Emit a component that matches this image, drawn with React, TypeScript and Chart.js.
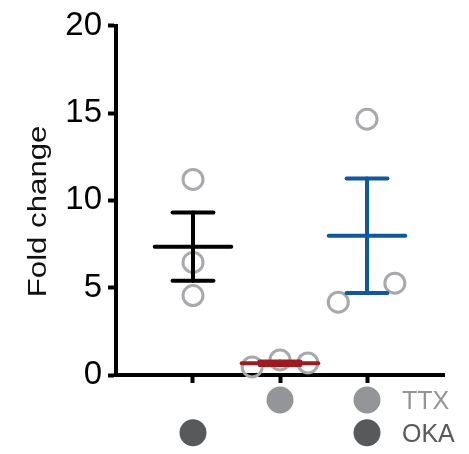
import React, { useEffect, useRef } from 'react';
import { Chart, registerables } from 'chart.js';

Chart.register(...registerables);

// ---- data ----
const groupCenters = [1, 2, 3];
const group1X = [1, 1, 1];
const group1Y = [11.2, 6.45, 4.55];
const group2X = [1.68, 2.0, 2.32];
const group2Y = [0.46, 0.86, 0.69];
const group3X = [2.67, 3.0, 3.32];
const group3Y = [4.17, 14.65, 5.26];
const groupMeans = [7.35, 0.67, 7.97];
const groupSems = [1.95, 0.1, 3.28];
const yTickValues = [0, 5, 10, 15, 20];
const rowLabels = ['TTX', 'OKA'];
const rowLevels = [-1.43, -3.31];
const ttxPositions = [2, 3];
const okaPositions = [1, 3];
const yTitle = 'Fold change';

// ---- styles ----
const groupColors = ['#000000', '#9e1b20', '#115799'];
const pointColor = '#a7a9ac';
const rowColors = ['#939598', '#58595b'];
const FONT = '"Liberation Sans", Arial, Helvetica, sans-serif';
const MEAN_HALF = 0.44;
const CAP_HALF = 0.235;

const toPts = (xs: number[], ys: number[]) => xs.map((x, i) => ({ x, y: ys[i] }));

function lineDs(data: { x: number; y: number }[], color: string) {
  return {
    type: 'scatter' as const,
    data,
    showLine: true,
    borderColor: color,
    backgroundColor: color,
    borderWidth: 4,
    borderCapStyle: 'round' as const,
    pointRadius: 0,
    pointHoverRadius: 0,
    order: 1,
  };
}

const extrasPlugin = {
  id: 'extras',
  afterDraw(chart: any) {
    const ctx = chart.ctx;
    const xs = chart.scales.x;
    const ys = chart.scales.y;
    ctx.save();
    // treatment rows (filled dots below the x axis)
    const rows = [ttxPositions, okaPositions];
    rows.forEach((positions, i) => {
      ctx.fillStyle = rowColors[i];
      positions.forEach((p) => {
        ctx.beginPath();
        ctx.arc(xs.getPixelForValue(p), ys.getPixelForValue(rowLevels[i]), 13.5, 0, Math.PI * 2);
        ctx.fill();
      });
    });
    // row labels
    ctx.font = `25px ${FONT}`;
    ctx.textAlign = 'left';
    ctx.textBaseline = 'alphabetic';
    rowLabels.forEach((lab, i) => {
      ctx.fillStyle = rowColors[i];
      ctx.fillText(lab, xs.getPixelForValue(3) + 35, ys.getPixelForValue(rowLevels[i]) + 9.5);
    });
    // y axis title
    ctx.translate(46, (ys.top + ys.bottom) / 2 + 11);
    ctx.rotate(-Math.PI / 2);
    ctx.scale(1.2, 1);
    ctx.font = `26px ${FONT}`;
    ctx.textAlign = 'center';
    ctx.fillStyle = '#111111';
    ctx.fillText(yTitle, 0, 0);
    ctx.restore();
  },
};

export default function App() {
  const ref = useRef<HTMLCanvasElement>(null);

  useEffect(() => {
    if (!ref.current) return;
    const datasets: any[] = [];
    const groupsX = [group1X, group2X, group3X];
    const groupsY = [group1Y, group2Y, group3Y];
    groupCenters.forEach((c, i) => {
      const m = groupMeans[i];
      const s = groupSems[i];
      const col = groupColors[i];
      datasets.push(lineDs([{ x: c - MEAN_HALF, y: m }, { x: c + MEAN_HALF, y: m }], col));
      datasets.push(lineDs([{ x: c, y: m - s }, { x: c, y: m + s }], col));
      datasets.push(lineDs([{ x: c - CAP_HALF, y: m + s }, { x: c + CAP_HALF, y: m + s }], col));
      datasets.push(lineDs([{ x: c - CAP_HALF, y: m - s }, { x: c + CAP_HALF, y: m - s }], col));
      datasets.push({
        type: 'scatter',
        data: toPts(groupsX[i], groupsY[i]),
        pointRadius: 10,
        pointHoverRadius: 10,
        pointBorderWidth: 3,
        borderColor: pointColor,
        pointBorderColor: pointColor,
        backgroundColor: 'rgba(0,0,0,0)',
        pointBackgroundColor: 'rgba(0,0,0,0)',
        clip: false,
        order: 10,
      });
    });

    const chart = new Chart(ref.current, {
      type: 'scatter',
      data: { datasets },
      options: {
        animation: false,
        responsive: false,
        layout: { padding: { left: 0, top: 25, right: 25, bottom: 0 } },
        plugins: { legend: { display: false }, tooltip: { enabled: false } },
        events: [],
        scales: {
          x: {
            type: 'linear',
            min: 0.115,
            max: 3.885,
            afterBuildTicks: (scale: any) => {
              scale.ticks = groupCenters.map((v) => ({ value: v }));
            },
            afterFit: (scale: any) => {
              scale.height = 79;
            },
            ticks: { display: false },
            grid: {
              drawOnChartArea: false,
              drawTicks: true,
              tickLength: 8,
              tickWidth: 4,
              tickColor: '#000',
            },
            border: { display: true, color: '#000', width: 4 },
          },
          y: {
            type: 'linear',
            min: 0,
            max: 20,
            afterBuildTicks: (scale: any) => {
              scale.ticks = yTickValues.map((v) => ({ value: v }));
            },
            afterFit: (scale: any) => {
              scale.width = 116;
            },
            ticks: {
              color: '#000',
              padding: 6,
              font: { family: FONT, size: 33 },
            },
            grid: {
              drawOnChartArea: false,
              drawTicks: true,
              tickLength: 8,
              tickWidth: 4,
              tickColor: '#000',
            },
            border: { display: true, color: '#000', width: 4 },
          },
        },
      },
      plugins: [extrasPlugin],
    });
    return () => chart.destroy();
  }, []);

  return (
    <div style={{ position: 'absolute', left: 0, top: 0, width: 469, height: 454, background: '#fff' }}>
      <canvas ref={ref} width={469} height={454} />
    </div>
  );
}
